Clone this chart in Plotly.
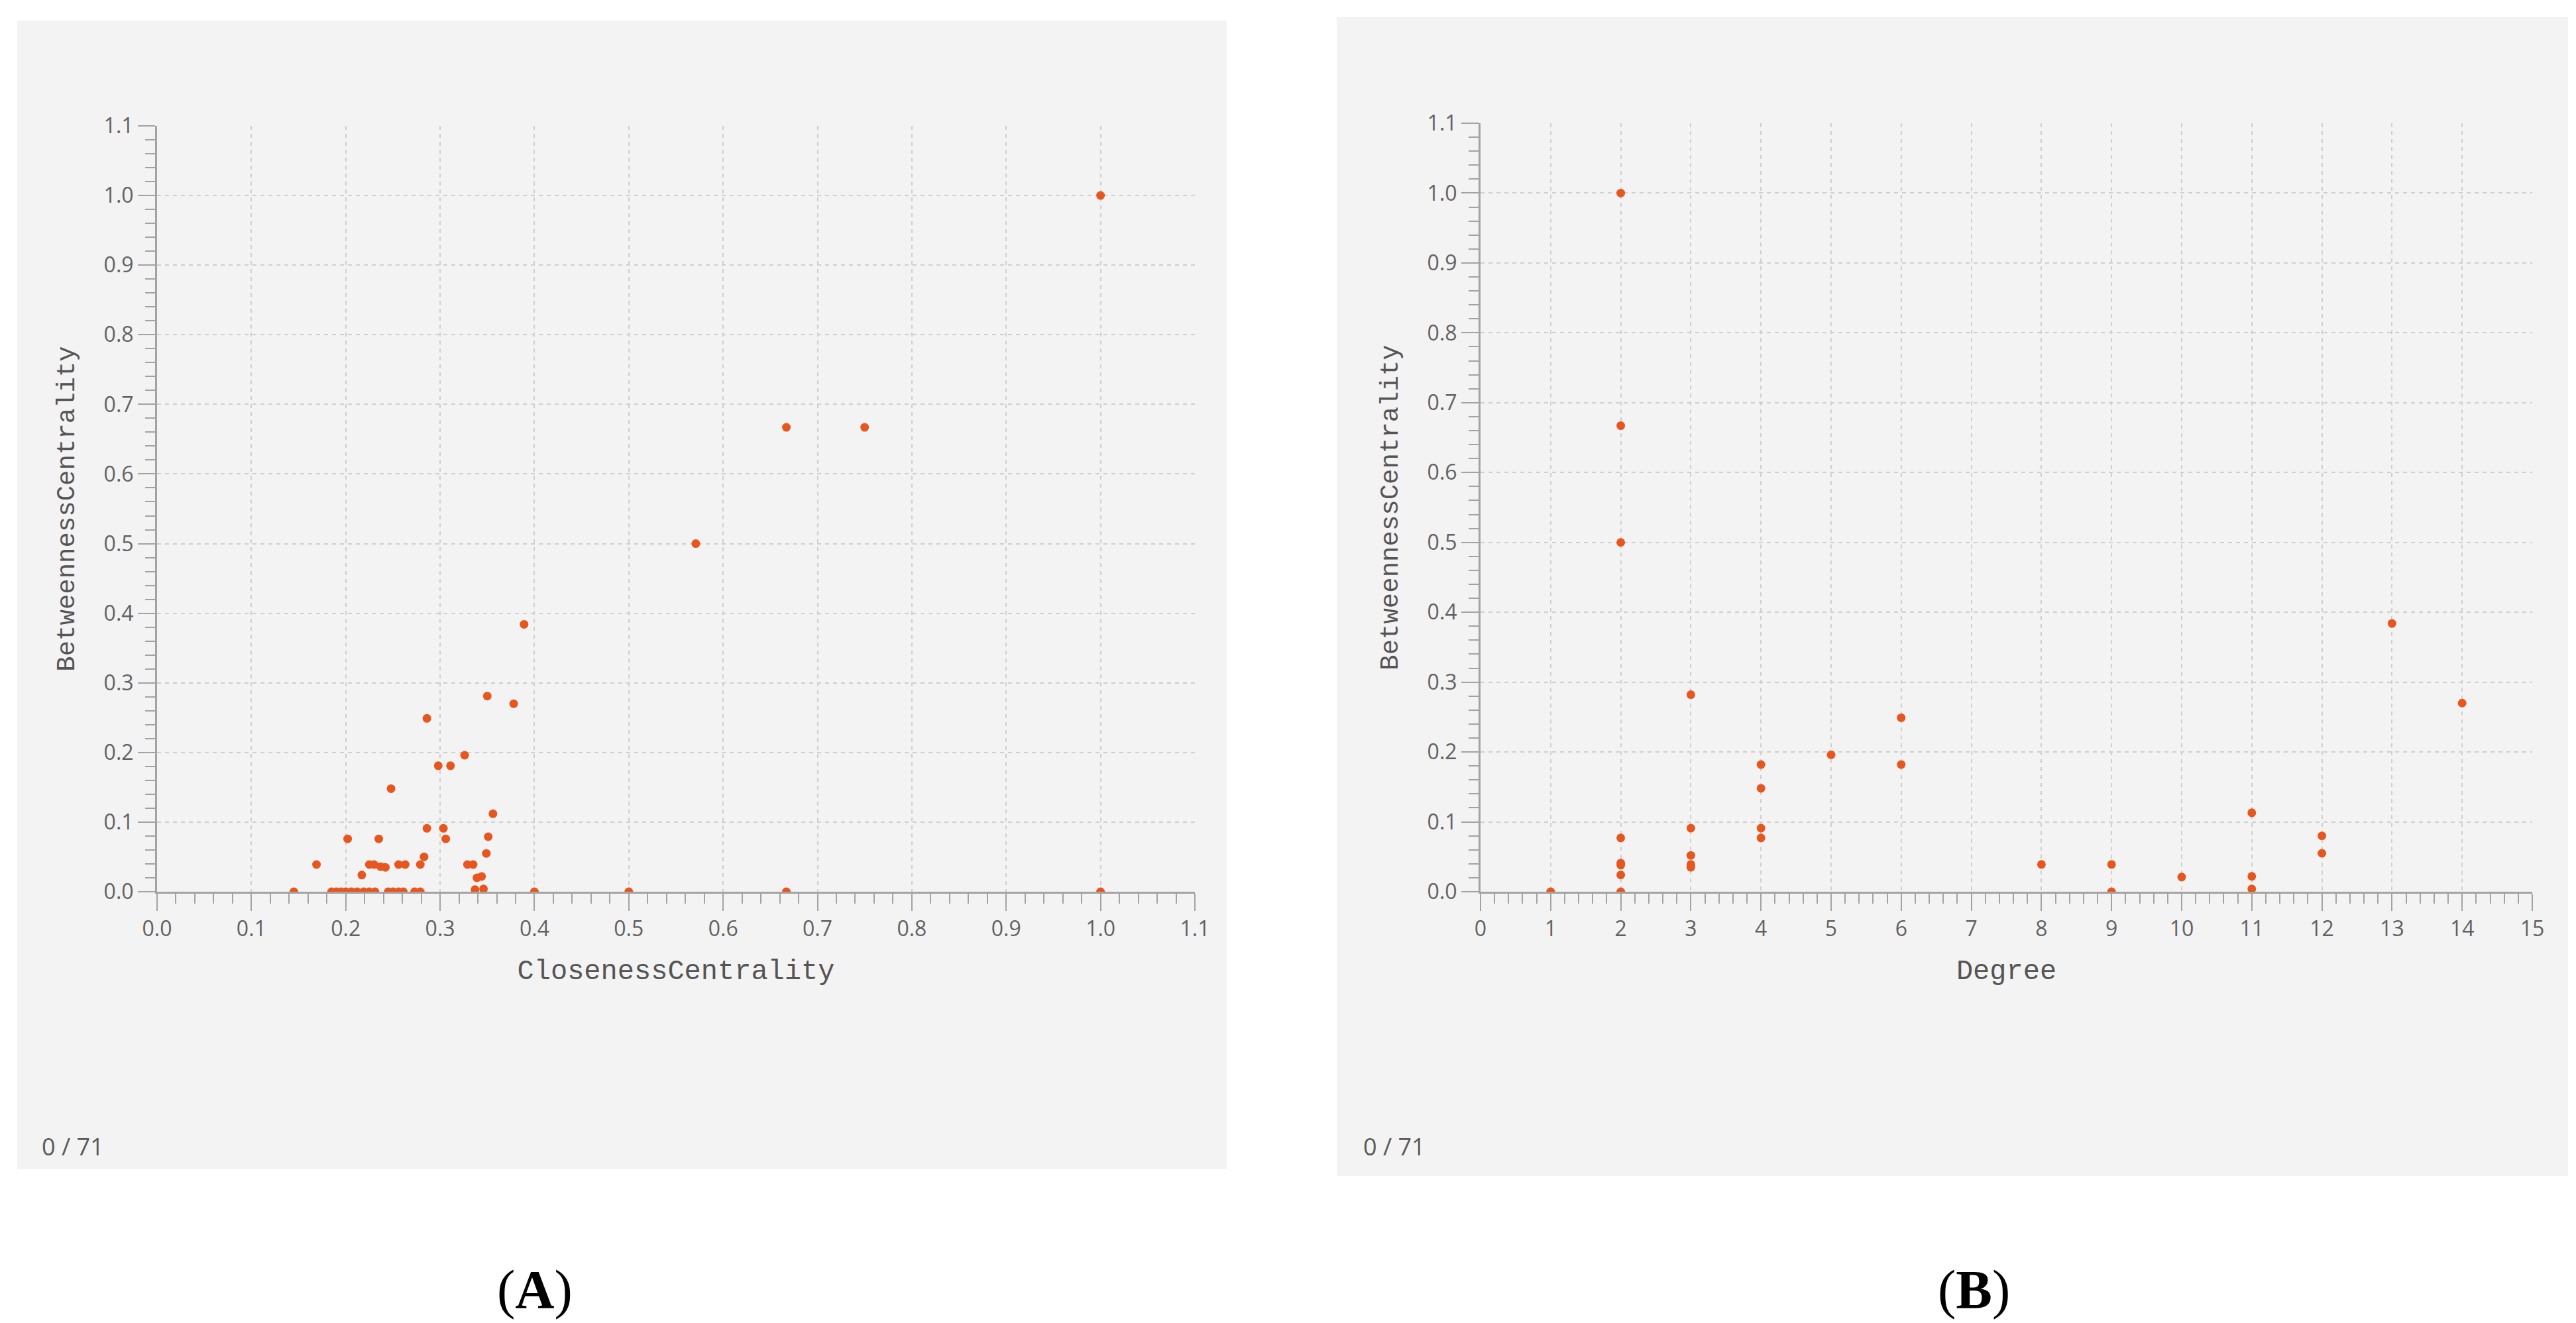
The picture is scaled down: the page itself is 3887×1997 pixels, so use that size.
import plotly.graph_objects as go

# Panel A: closeness vs betweenness centrality
closeness = [0.145, 0.185, 0.19, 0.195, 0.2, 0.206, 0.212, 0.219, 0.225, 0.231,
             0.245, 0.25, 0.256, 0.261, 0.273, 0.279, 0.337, 0.346, 0.4, 0.5,
             0.667, 1.0,
             0.169, 0.202, 0.217, 0.225, 0.23, 0.237, 0.242, 0.235, 0.248, 0.256,
             0.263, 0.279, 0.283, 0.286, 0.286, 0.298, 0.311, 0.326, 0.3035, 0.306,
             0.329, 0.335, 0.339, 0.344, 0.349, 0.351, 0.356, 0.35, 0.378, 0.389,
             0.571, 0.667, 0.75, 1.0]
betweenness_a = [0, 0, 0, 0, 0, 0, 0, 0, 0, 0,
                 0, 0, 0, 0, 0, 0, 0.003, 0.004, 0, 0,
                 0, 0,
                 0.039, 0.076, 0.024, 0.039, 0.039, 0.036, 0.035, 0.076, 0.148, 0.039,
                 0.039, 0.039, 0.05, 0.091, 0.249, 0.181, 0.181, 0.196, 0.091, 0.076,
                 0.039, 0.039, 0.02, 0.022, 0.055, 0.079, 0.112, 0.281, 0.27, 0.384,
                 0.5, 0.667, 0.667, 1.0]

# Panel B: degree vs betweenness centrality
degree = [1, 2, 2, 2, 2, 2, 2, 2, 2, 3, 3, 3, 3, 3, 4, 4, 4, 4, 5, 6, 6,
          8, 9, 9, 10, 11, 11, 11, 12, 12, 13, 14]
betweenness_b = [0, 1.0, 0.667, 0.5, 0.077, 0.041, 0.038, 0.024, 0, 0.282, 0.091,
                 0.052, 0.039, 0.035, 0.182, 0.148, 0.091, 0.077, 0.196, 0.249, 0.182,
                 0.039, 0.039, 0, 0.021, 0.113, 0.022, 0.004, 0.08, 0.055, 0.384, 0.27]

y_ticks = [round(i * 0.1, 1) for i in range(12)]
x_ticks_a = [round(i * 0.1, 1) for i in range(12)]
x_ticks_b = list(range(16))

W, H = 3887, 1997
DOT = '#e8561f'
AXIS = '#a3a3a3'
GRID = '#cfcfcf'
TICKFONT = dict(family='Open Sans, Noto Sans, sans-serif', size=32, color='#626262')
XTITLE = dict(family='Courier New, Liberation Mono, monospace', size=42, color='#555555')
YTITLE = dict(family='Courier New, Liberation Mono, monospace', size=39, color='#555555')

fig = go.Figure()

fig.add_trace(go.Scatter(
    x=closeness, y=betweenness_a, mode='markers',
    marker=dict(color=DOT, size=13, line=dict(width=0)),
    xaxis='x', yaxis='y', showlegend=False
))
fig.add_trace(go.Scatter(
    x=degree, y=betweenness_b, mode='markers',
    marker=dict(color=DOT, size=13, line=dict(width=0)),
    xaxis='x2', yaxis='y2', showlegend=False
))


def axis_style(tickvals, ticktext, minor_step, **kw):
    d = dict(
        tickvals=tickvals, ticktext=ticktext,
        automargin=False,
        showline=True, linecolor=AXIS, linewidth=3,
        ticks='outside', ticklen=26, tickwidth=2, tickcolor=AXIS,
        tickfont=TICKFONT,
        showgrid=True, gridcolor=GRID, gridwidth=2, griddash='6px,6px',
        zeroline=False,
        minor=dict(dtick=minor_step, tick0=0, ticks='outside', ticklen=15,
                   tickwidth=2, tickcolor=AXIS, showgrid=False),
    )
    d.update(kw)
    return d


y_text = [f'{v:.1f}' for v in y_ticks]

fig.update_layout(
    width=W, height=H,
    margin=dict(l=0, r=0, t=0, b=0, autoexpand=False),
    paper_bgcolor='white',
    plot_bgcolor='#fafafa',
    xaxis=axis_style(x_ticks_a, [f'{v:.1f}' for v in x_ticks_a], 0.02,
                     domain=[229 / W, 1795 / W], range=[0, 1.1], anchor='y',
                     title=dict(text='ClosenessCentrality', font=XTITLE, standoff=28)),
    yaxis=axis_style(y_ticks, y_text, 0.02,
                     domain=[1 - 1338 / H, 1 - 182 / H], range=[0, 1.1], anchor='x',
                     title=dict(text='BetweennessCentrality', font=YTITLE, standoff=32)),
    xaxis2=axis_style(x_ticks_b, [str(v) for v in x_ticks_b], 0.2,
                      domain=[2226 / W, 3813 / W], range=[0, 15], anchor='y2',
                      title=dict(text='Degree', font=XTITLE, standoff=28)),
    yaxis2=axis_style(y_ticks, y_text, 0.02,
                      domain=[1 - 1338 / H, 1 - 178 / H], range=[0, 1.1], anchor='x2',
                      title=dict(text='BetweennessCentrality', font=YTITLE, standoff=32)),
)

# grey panel backgrounds
for x0, x1, y0, y1 in [(18, 1843, 23, 1757), (2009, 3867, 18, 1767)]:
    fig.add_shape(type='rect', xref='paper', yref='paper',
                  x0=x0 / W, x1=x1 / W, y0=1 - y1 / H, y1=1 - y0 / H,
                  fillcolor='#f3f3f3', line=dict(width=0), layer='below')

# counters and panel letters
for xpx, letter, lx in [(53, 'A', 799), (2047, 'B', 2970)]:
    fig.add_annotation(x=xpx / W, y=1 - 1722 / H, xref='paper', yref='paper',
                       text='0 / 71', showarrow=False, xanchor='left', yanchor='middle',
                       font=dict(family='Open Sans, Noto Sans, sans-serif', size=36, color='#5a5a5a'))
    fig.add_annotation(x=lx / W, y=1 - 1938 / H, xref='paper', yref='paper',
                       text=f'(<b>{letter}</b>)', showarrow=False, xanchor='center', yanchor='middle',
                       font=dict(family='Liberation Serif, Times New Roman, serif', size=82, color='black'))

fig.write_html("out.html")
